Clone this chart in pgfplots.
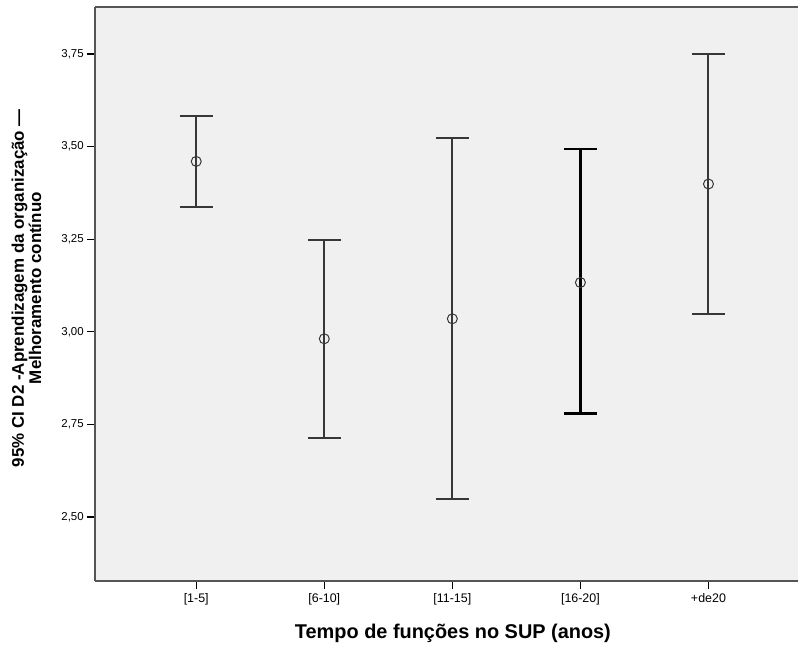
\documentclass[border=0pt]{standalone}
\usepackage{pgfplots}
\pgfplotsset{compat=1.18}
\usepackage{fontspec}
\setmainfont{Liberation Sans}
\definecolor{panel}{RGB}{240,240,240}
\definecolor{frame}{RGB}{85,85,85}
\definecolor{barc}{RGB}{55,55,55}

\begin{document}
\begin{tikzpicture}
\begin{axis}[
  scale only axis, width=703.7bp, height=575bp,
  xmin=-0.789, xmax=4.70, ymin=2.326, ymax=3.877,
  axis background/.style={fill=panel},
  axis x line*=box, axis y line*=left,
  axis line style={draw=frame, line width=1.8bp},
  xtick={0,1,2,3,4},
  xticklabels={{[1-5]},{[6-10]},{[11-15]},{[16-20]},{+de20}},
  ytick={2.5,2.75,3,3.25,3.5,3.75},
  xtick pos=bottom, ytick pos=left,
  tick align=outside, major tick length=8bp,
  tick style={black, line width=1.2bp},
  yticklabel style={/pgf/number format/.cd, fixed, fixed zerofill, precision=2, use comma},
  /pgf/number format/assume math mode=true,
  tick label style={font=\fontsize{11.5}{13}\selectfont},
  xticklabel style={yshift=-1bp, font=\fontsize{12.5}{14}\selectfont},
  xlabel={Tempo de funções no SUP (anos)},
  every axis x label/.style={at={(axis description cs:0.5,0)}, anchor=center, xshift=6.3bp, yshift=-52bp,
    font=\bfseries\fontsize{20}{23}\selectfont},
  ylabel={95\% CI D2 -Aprendizagem da organização —\\Melhoramento contínuo},
  every axis y label/.style={at={(axis description cs:0,0.5)}, rotate=90, anchor=center, yshift=68.8bp, xshift=6bp,
    align=center, font=\bfseries\fontsize{17}{17.5}\selectfont},
  error bars/y dir=both, error bars/y explicit,
  error bars/error mark=-,
  error bars/error bar style={line width=2bp, draw=barc},
  error bars/error mark options={rotate=90, mark size=16.5bp, line width=2bp, draw=barc},
]
\addplot[only marks, mark=o, mark size=5bp, mark options={draw=barc, line width=1bp}]
  coordinates {
    (0,3.460) += (0,0.123) -= (0,0.123)
    (1,2.981) += (0,0.267) -= (0,0.267)
    (2,3.035) += (0,0.488) -= (0,0.486)
    (4,3.399) += (0,0.351) -= (0,0.351)
  };
\addplot[only marks, mark=o, mark size=5bp, mark options={draw=barc, line width=1bp},
  error bars/error bar style={line width=2.5bp, draw=black},
  error bars/error mark options={rotate=90, mark size=16.5bp, line width=2.5bp, draw=black}]
  coordinates {
    (3,3.133) += (0,0.360) -= (0,0.354)
  };
\end{axis}
\path[use as bounding box] ([shift={(-95.3bp,-66bp)}]current axis.south west) rectangle ([shift={(0bp,7bp)}]current axis.north east);
\end{tikzpicture}
\end{document}
